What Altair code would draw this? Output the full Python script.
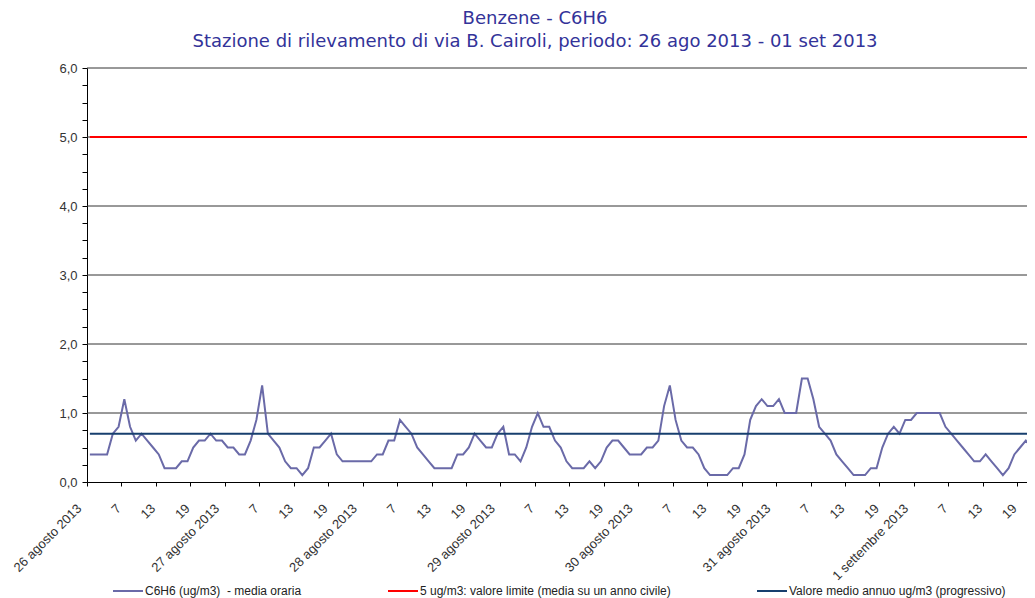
import altair as alt
import pandas as pd

# hourly values (ug/m3), one list per day
d26 = [0.4,0.4,0.4,0.4,0.7,0.8,1.2,0.8,0.6,0.7,0.6,0.5,0.4,0.2,0.2,0.2,0.3,0.3,0.5,0.6,0.6,0.7,0.6,0.6]
d27 = [0.5,0.5,0.4,0.4,0.6,0.9,1.4,0.7,0.6,0.5,0.3,0.2,0.2,0.1,0.2,0.5,0.5,0.6,0.7,0.4,0.3,0.3,0.3,0.3]
d28 = [0.3,0.3,0.4,0.4,0.6,0.6,0.9,0.8,0.7,0.5,0.4,0.3,0.2,0.2,0.2,0.2,0.4,0.4,0.5,0.7,0.6,0.5,0.5,0.7]
d29 = [0.8,0.4,0.4,0.3,0.5,0.8,1.0,0.8,0.8,0.6,0.5,0.3,0.2,0.2,0.2,0.3,0.2,0.3,0.5,0.6,0.6,0.5,0.4,0.4]
d30 = [0.4,0.5,0.5,0.6,1.1,1.4,0.9,0.6,0.5,0.5,0.4,0.2,0.1,0.1,0.1,0.1,0.2,0.2,0.4,0.9,1.1,1.2,1.1,1.1]
d31 = [1.2,1.0,1.0,1.0,1.5,1.5,1.2,0.8,0.7,0.6,0.4,0.3,0.2,0.1,0.1,0.1,0.2,0.2,0.5,0.7,0.8,0.7,0.9,0.9]
d01 = [1.0,1.0,1.0,1.0,1.0,0.8,0.7,0.6,0.5,0.4,0.3,0.3,0.4,0.3,0.2,0.1,0.2,0.4,0.5,0.6,0.5,0.4]

day_labels = ["26 agosto 2013", "27 agosto 2013", "28 agosto 2013", "29 agosto 2013",
              "30 agosto 2013", "31 agosto 2013", "1 settembre 2013"]
limit_value = 5.0
annual_mean = 0.7
series_names = ["C6H6 (ug/m3) \u00a0- media oraria",
                "5 ug/m3: valore limite (media su un anno civile)",
                "Valore medio annuo ug/m3 (progressivo)"]
series_colors = ["#6a6aa8", "#ff0000", "#173f6e"]
grid_values = [1, 2, 3, 4, 5, 6]
title_lines = ["Benzene - C6H6",
               "Stazione di rilevamento di via B. Cairoli, periodo: 26 ago 2013 - 01 set 2013"]

hourly = d26 + d27 + d28 + d29 + d30 + d31 + d01
n = len(hourly)
t = [i + 0.5 for i in range(n)]

df = pd.DataFrame({
    "t": t * 3,
    "v": hourly + [limit_value] * n + [annual_mean] * n,
    "serie": [series_names[0]] * n + [series_names[1]] * n + [series_names[2]] * n,
})
grid_df = pd.DataFrame({"g": grid_values})

x_ticks = list(range(0, 163, 6))
y_ticks = [k * 0.25 for k in range(0, 25)]
days_js = "[" + ",".join("'" + d + "'" for d in day_labels) + "]"
x_label_expr = ("datum.value % 24 == 0 ? " + days_js + "[floor(datum.value / 24)] : "
                "'' + (datum.value % 24 + 1)")
y_label_expr = "datum.value % 1 == 0 ? replace(format(datum.value, '.1f'), '.', ',') : ''"

xscale = alt.Scale(domain=[0, 163.7], nice=False, zero=False)
yscale = alt.Scale(domain=[0, 6], nice=False)

xaxis = alt.Axis(values=x_ticks, labelExpr=x_label_expr, labelAngle=-45, labelAlign="right",
                 labelBaseline="middle", labelPadding=20,
                 labelOffset={"condition": {"test": "datum.value % 24 == 0", "value": -8},
                              "value": -3},
                 tickSize=4,
                 tickColor="#000000", domainColor="#000000", labelFont="Liberation Sans",
                 labelFontSize=13, labelColor="#333333", grid=False, title=None,
                 labelOverlap=False, labelFlush=False, labelBound=False)
yaxis = alt.Axis(values=y_ticks, labelExpr=y_label_expr, tickSize=5, labelPadding=5,
                 tickColor="#000000", domainColor="#000000", labelFont="Liberation Sans",
                 labelFontSize=13, labelColor="#333333", grid=False, title=None,
                 labelOverlap=False, labelFlush=False)

legend = alt.Legend(orient="none", legendX=25, legendY=507, direction="horizontal",
                    title=None, symbolType="stroke", symbolSize=900, symbolStrokeWidth=2,
                    labelFont="Liberation Sans", labelFontSize=12, labelColor="#222222",
                    labelLimit=500, columnPadding=82, labelOffset=1, padding=0)

color = alt.Color("serie:N", scale=alt.Scale(domain=series_names, range=series_colors),
                  legend=legend)

grid = alt.Chart(grid_df).mark_rule(color="#333333", strokeWidth=1).encode(
    y=alt.Y("g:Q", scale=yscale, axis=yaxis)
)

def series_layer(name):
    return alt.Chart(df).transform_filter(alt.datum.serie == name).mark_line(
        strokeWidth=2, interpolate="linear", clip=True
    ).encode(
        x=alt.X("t:Q", scale=xscale, axis=xaxis),
        y=alt.Y("v:Q", scale=yscale, axis=yaxis),
        color=color,
    )

chart = alt.layer(
    grid,
    series_layer(series_names[0]),
    series_layer(series_names[1]),
    series_layer(series_names[2]),
).properties(
    width=940,
    height=414,
    autosize=alt.AutoSizeParams(type="none"),
    padding={"left": 79, "top": 60, "right": 0, "bottom": 120},
    title=alt.TitleParams(text=title_lines, font="DejaVu Sans", fontSize=18,
                          fontWeight="normal", color="#333399", lineHeight=23,
                          anchor="middle", dx=-22, offset=11),
).configure_view(strokeWidth=0)

chart.save("out.html", embed_options={"renderer": "svg", "actions": False})
